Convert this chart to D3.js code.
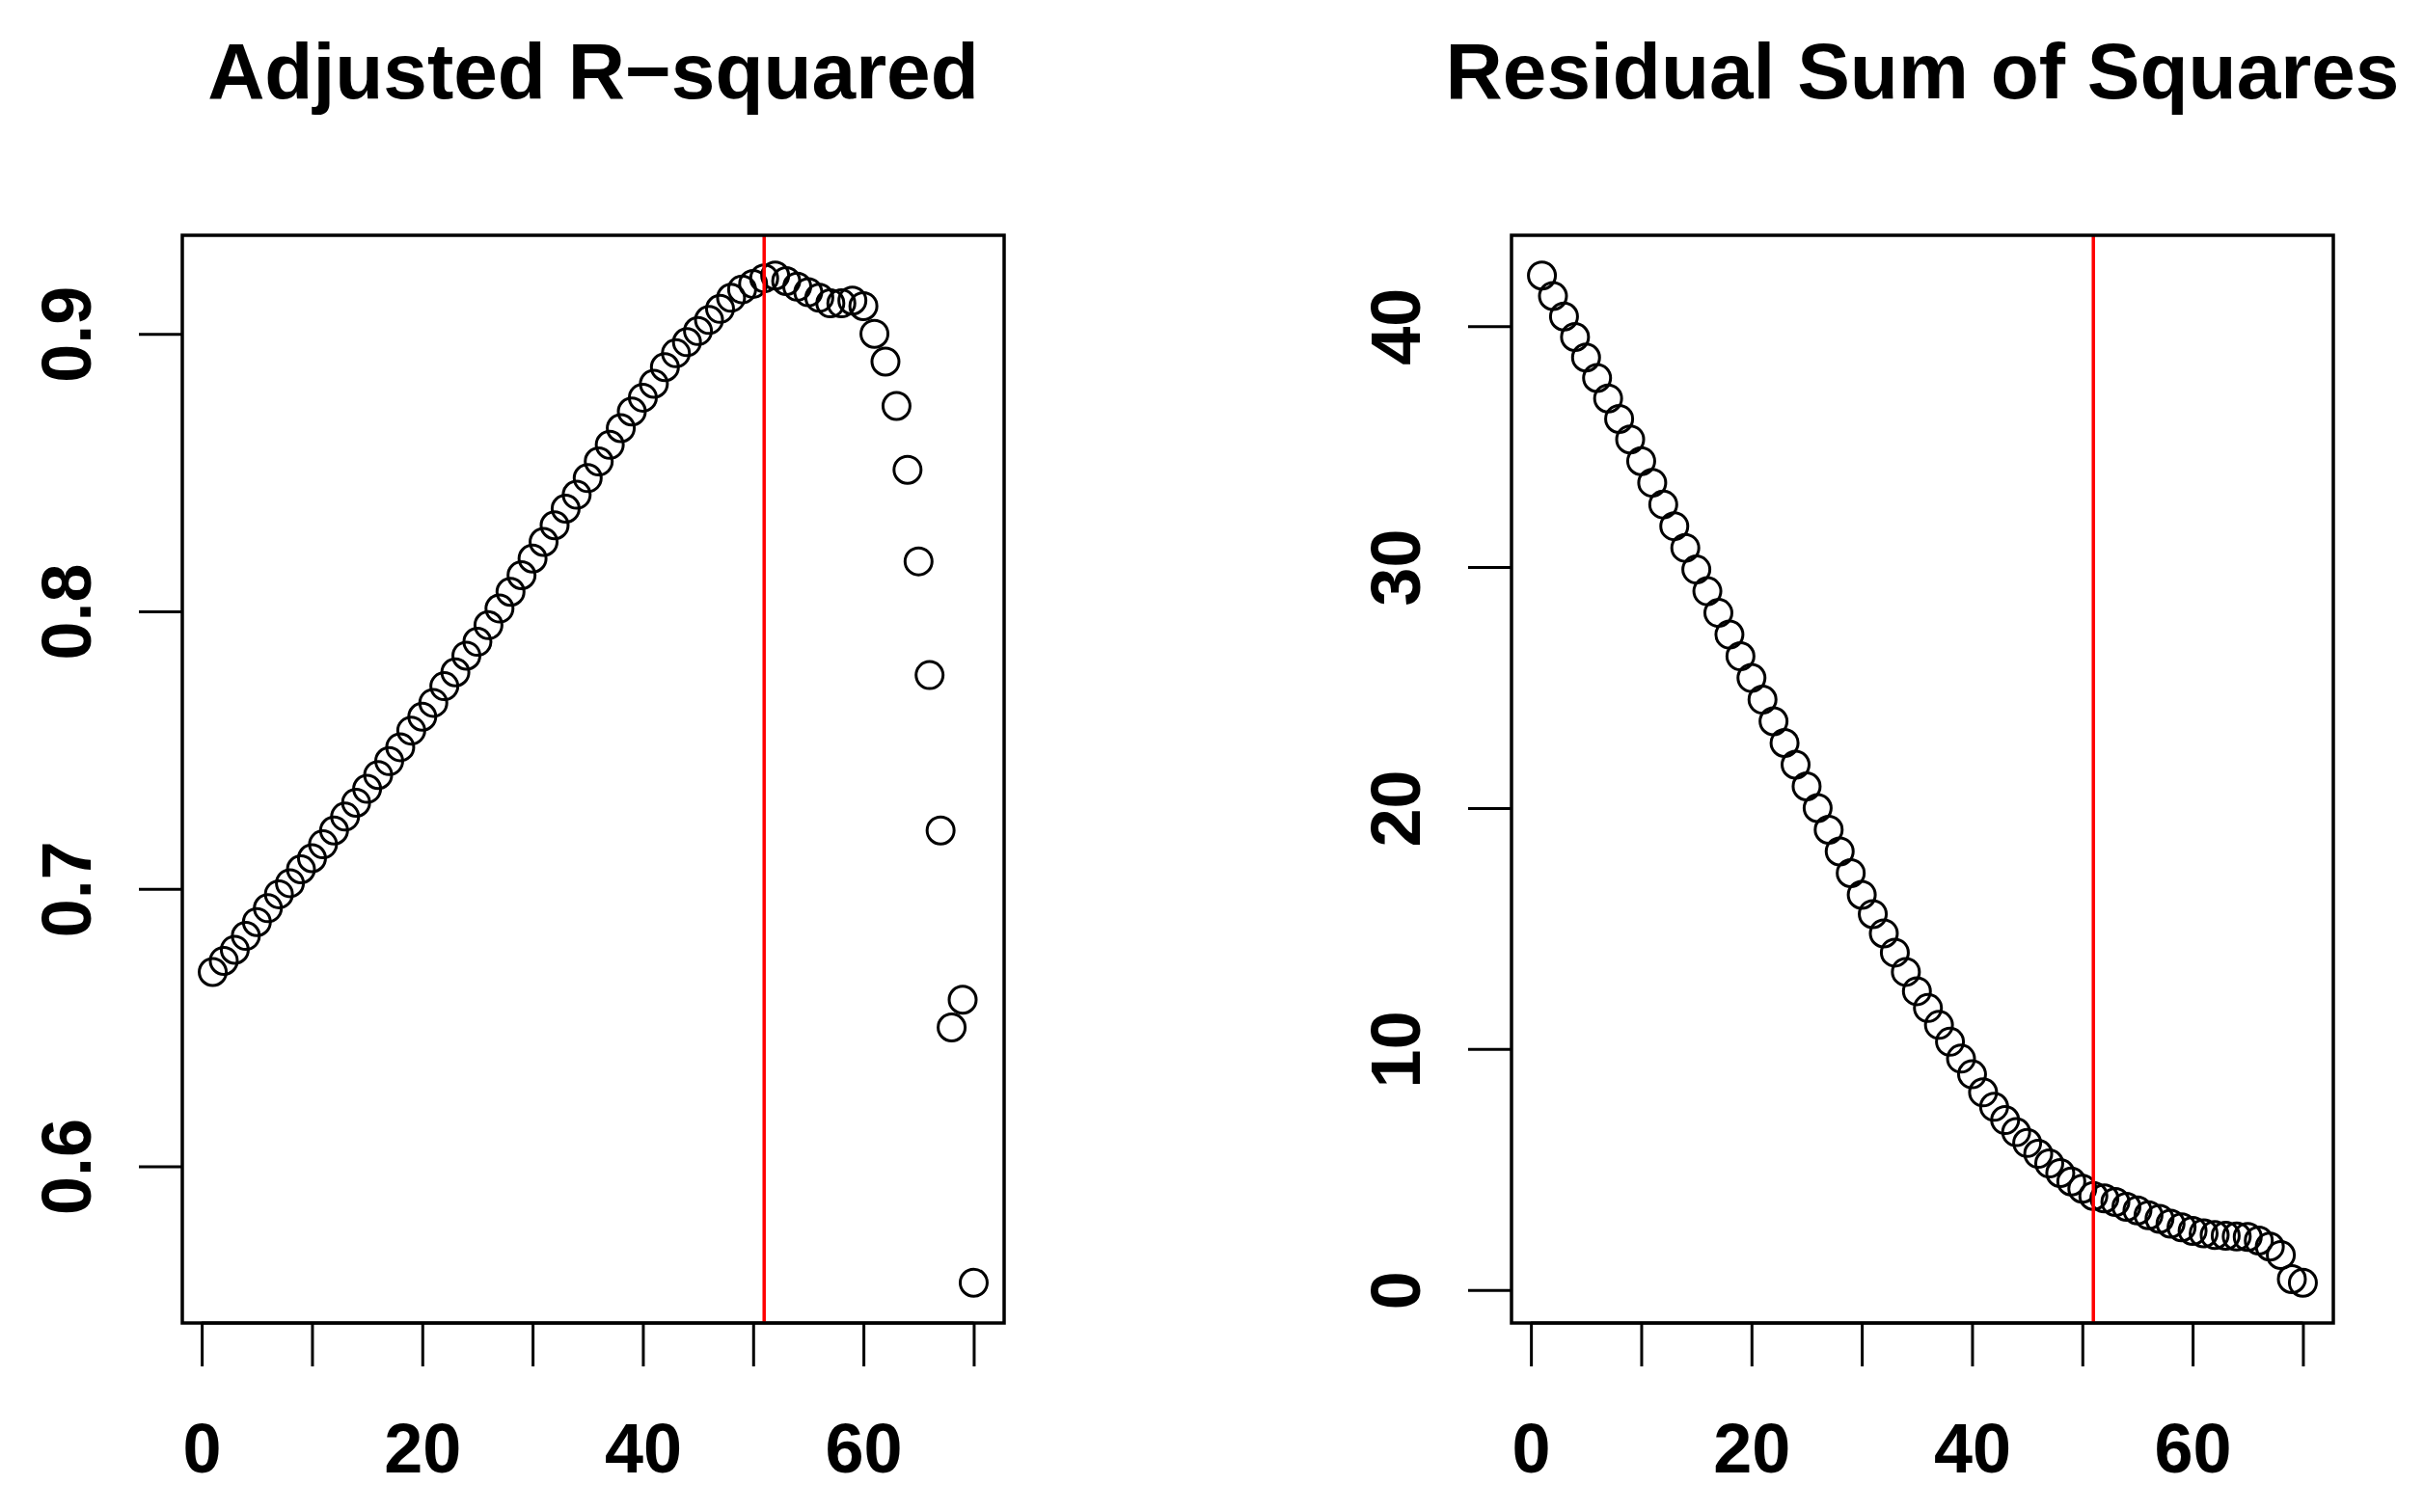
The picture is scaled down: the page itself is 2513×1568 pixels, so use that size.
<!DOCTYPE html>
<html lang="en">
<head>
  <meta charset="UTF-8">
  <title>Adjusted R-squared and Residual Sum of Squares</title>
  <script src="https://d3js.org/d3.v7.min.js"></script>
  <style>
    body {
      margin: 0;
      background: #ffffff;
    }
    svg {
      display: block;
      font-family: 'Liberation Sans', Arial, Helvetica, sans-serif;
      font-weight: bold;
    }
  </style>
</head>
<body>
  <svg width="2513" height="1568"></svg>

<script>
// model size (number of variables) on the x axis
const modelSize = [
  1, 2, 3, 4, 5, 6, 7, 8, 9, 10, 11, 12, 13, 14, 15, 16, 17, 18, 19, 20,
  21, 22, 23, 24, 25, 26, 27, 28, 29, 30, 31, 32, 33, 34, 35, 36, 37, 38, 39, 40,
  41, 42, 43, 44, 45, 46, 47, 48, 49, 50, 51, 52, 53, 54, 55, 56, 57, 58, 59, 60,
  61, 62, 63, 64, 65, 66, 67, 68, 69, 70
];

const adjR2 = [
  0.670, 0.674, 0.678, 0.683, 0.688, 0.693, 0.698, 0.702, 0.707, 0.711,
  0.716, 0.721, 0.726, 0.731, 0.736, 0.741, 0.746, 0.751, 0.757, 0.762,
  0.767, 0.773, 0.778, 0.784, 0.789, 0.795, 0.801, 0.807, 0.813, 0.819,
  0.825, 0.831, 0.837, 0.842, 0.848, 0.854, 0.860, 0.866, 0.872, 0.877,
  0.882, 0.888, 0.893, 0.897, 0.901, 0.905, 0.909, 0.913, 0.916, 0.918,
  0.920, 0.921, 0.919, 0.917, 0.915, 0.913, 0.911, 0.911, 0.912, 0.910,
  0.900, 0.890, 0.874, 0.851, 0.818, 0.777, 0.721, 0.650, 0.660, 0.558
];

const rss = [
  42.1, 41.25, 40.4, 39.55, 38.7, 37.85, 37.0, 36.15, 35.3, 34.4,
  33.5, 32.6, 31.7, 30.8, 29.9, 29.0, 28.1, 27.2, 26.3, 25.4,
  24.5, 23.6, 22.7, 21.8, 20.9, 20.0, 19.1, 18.2, 17.3, 16.4,
  15.6, 14.8, 14.0, 13.2, 12.4, 11.7, 11.0, 10.3, 9.6, 8.95,
  8.2, 7.6, 7.05, 6.55, 6.1, 5.65, 5.25, 4.85, 4.5, 4.2,
  3.9, 3.8, 3.65, 3.45, 3.3, 3.1, 2.95, 2.75, 2.6, 2.45,
  2.35, 2.28, 2.25, 2.22, 2.2, 2.05, 1.8, 1.45, 0.45, 0.3
];

const selectedSize = 51;

const xTicks = [0, 10, 20, 30, 40, 50, 60, 70];
const xTickLabels = ["0", "", "20", "", "40", "", "60", ""];
const adjR2Ticks = [0.6, 0.7, 0.8, 0.9];
const rssTicks = [0, 10, 20, 30, 40];

const titles = ["Adjusted R\u2212squared", "Residual Sum of Squares"];

const svg = d3.select("svg");

const boxTop = 244;
const boxBottom = 1372;
const boxWidth = 852;
const boxLefts = [189, 1567];

// R style range: data extent stretched by 4% on each side
function padded(values) {
  const [lo, hi] = d3.extent(values);
  const pad = (hi - lo) * 0.04;
  return [lo - pad, hi + pad];
}

function drawPanel(left, title, values, yTicks) {
  const right = left + boxWidth;

  const x = d3.scaleLinear()
    .domain(padded(modelSize))
    .range([left, right]);

  const y = d3.scaleLinear()
    .domain(padded(values))
    .range([boxBottom, boxTop]);

  const g = svg.append("g");

  // x axis
  const xAxis = g.append("g")
    .attr("transform", `translate(0,${boxBottom})`)
    .call(d3.axisBottom(x)
      .tickValues(xTicks)
      .tickSize(45)
      .tickFormat((d, i) => xTickLabels[i]));
  xAxis.select(".domain").remove();
  xAxis.selectAll(".tick line")
    .attr("stroke", "#000")
    .attr("stroke-width", 3);
  xAxis.selectAll(".tick text")
    .attr("y", 155)
    .attr("dy", 0)
    .attr("fill", "#000")
    .style("font-size", "72px")
    .style("font-weight", "bold");
  xAxis.append("line")
    .attr("x1", x(xTicks[0]))
    .attr("x2", x(xTicks[xTicks.length - 1]))
    .attr("stroke", "#000")
    .attr("stroke-width", 3);

  // y axis, labels turned like R
  const yAxis = g.append("g")
    .attr("transform", `translate(${left},0)`)
    .call(d3.axisLeft(y)
      .tickValues(yTicks)
      .tickSize(45)
      .tickFormat(d3.format("")));
  yAxis.select(".domain").remove();
  yAxis.selectAll(".tick line")
    .attr("stroke", "#000")
    .attr("stroke-width", 3);
  yAxis.selectAll(".tick text")
    .attr("transform", "rotate(-90)")
    .attr("x", 0)
    .attr("y", -95)
    .attr("dy", 0)
    .attr("text-anchor", "middle")
    .attr("fill", "#000")
    .style("font-size", "72px")
    .style("font-weight", "bold");

  // points
  g.append("g")
    .selectAll("circle")
    .data(values)
    .join("circle")
    .attr("cx", (d, i) => x(modelSize[i]))
    .attr("cy", d => y(d))
    .attr("r", 14)
    .attr("fill", "none")
    .attr("stroke", "#000")
    .attr("stroke-width", 3);

  // chosen model size
  g.append("line")
    .attr("x1", x(selectedSize))
    .attr("x2", x(selectedSize))
    .attr("y1", boxTop)
    .attr("y2", boxBottom)
    .attr("stroke", "#ff0000")
    .attr("stroke-width", 3.5);

  // plot box
  g.append("rect")
    .attr("x", left)
    .attr("y", boxTop)
    .attr("width", boxWidth)
    .attr("height", boxBottom - boxTop)
    .attr("fill", "none")
    .attr("stroke", "#000")
    .attr("stroke-width", 3.5);

  g.append("text")
    .attr("x", (left + right) / 2)
    .attr("y", 102)
    .attr("text-anchor", "middle")
    .style("font-size", "82px")
    .style("font-weight", "bold")
    .text(title);
}

drawPanel(boxLefts[0], titles[0], adjR2, adjR2Ticks);
drawPanel(boxLefts[1], titles[1], rss, rssTicks);
</script>
</body>
</html>
